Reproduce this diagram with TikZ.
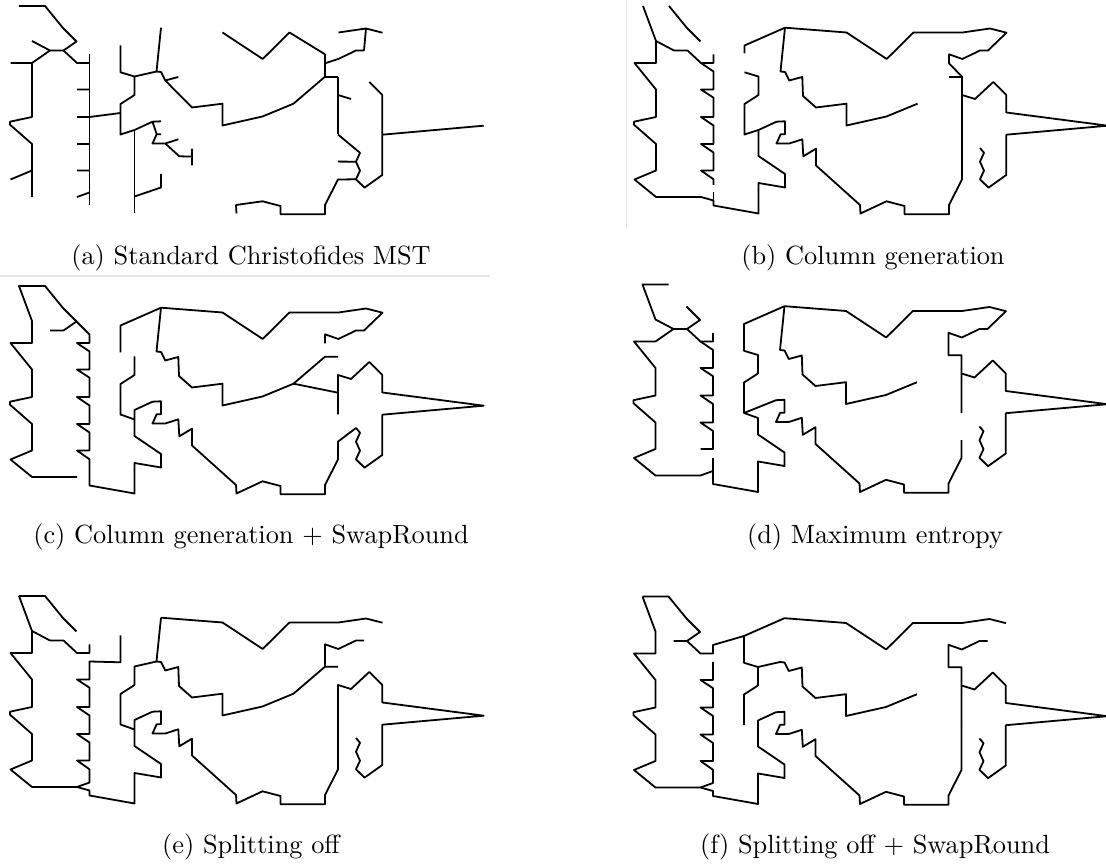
\documentclass[tikz,border=0pt]{standalone}
\usepackage{tikz}
\newcommand{\tspverts}{%
\coordinate (a1) at (19,6);\coordinate (a2) at (45,6);\coordinate (a3) at (63,28);
\coordinate (a4) at (76.5,41.5);\coordinate (a5) at (63.5,50.5);\coordinate (a6) at (50,50.5);
\coordinate (a7) at (32,41);\coordinate (a8) at (32,63);\coordinate (a9) at (10.5,63);
\coordinate (a10) at (77,63);\coordinate (a11) at (89.5,63);\coordinate (a12) at (89.5,54.5);
\coordinate (b89) at (32,89.5);\coordinate (b117) at (32,117);\coordinate (b144) at (32,144);
\coordinate (b170) at (32,170.5);\coordinate (b197) at (32,197);
\coordinate (c122) at (10,121.7);\coordinate (c124) at (10,124.7);\coordinate (c179) at (10.5,179.5);
\coordinate (d89) at (77,89.5);\coordinate (d117) at (77,117);\coordinate (d144) at (77,144);
\coordinate (d170) at (77,170.5);\coordinate (d197) at (77,197);
\coordinate (e71) at (89.5,71.5);\coordinate (e89) at (89.5,89.5);\coordinate (e97) at (89.5,97.7);
\coordinate (e117) at (89.5,117);\coordinate (e126) at (89.5,125.5);\coordinate (e144) at (89.5,144);
\coordinate (e152) at (89.5,152.5);\coordinate (e170) at (89.5,170.5);\coordinate (e179) at (89.5,179.3);
\coordinate (e185) at (89.5,185);\coordinate (e190) at (89.5,192.5);\coordinate (e200) at (89.5,200.5);
\coordinate (e205) at (89.5,205.5);
\coordinate (m1) at (120.5,45.5);\coordinate (m2) at (120.5,53.3);\coordinate (m3) at (120.5,72.3);
\coordinate (m4) at (134.5,76.5);\coordinate (m5) at (134.5,95);\coordinate (m6) at (120.5,104);
\coordinate (m7) at (120.5,113);\coordinate (m8) at (120.5,134.5);\coordinate (m9) at (134.5,130);
\coordinate (m9b) at (134.5,139.5);\coordinate (m10) at (134.5,156);\coordinate (m11) at (161,174);
\coordinate (m12) at (161,187.5);\coordinate (m13) at (134.5,183);\coordinate (m13b) at (134.5,196.5);
\coordinate (m14) at (134.5,213.5);\coordinate (m15) at (161,27.7);\coordinate (m16) at (156.5,71.5);
\coordinate (m17) at (161,72);\coordinate (m18) at (165.3,80.5);\coordinate (m19) at (178.3,77);
\coordinate (m20) at (179,96);\coordinate (m21) at (192,107.5);\coordinate (m22) at (222.5,103.7);
\coordinate (m23) at (222.5,125.5);\coordinate (m24) at (262.5,116.5);\coordinate (m25) at (293.5,103.7);
\coordinate (n1) at (152.5,121.7);\coordinate (n2) at (161,121.3);\coordinate (n3) at (156.7,134.2);
\coordinate (n4) at (161,134.2);\coordinate (n5) at (152.5,143.5);\coordinate (n6) at (165.3,143.5);
\coordinate (n7) at (178.3,139.3);\coordinate (n8) at (179.3,156.3);\coordinate (n9) at (191.7,156.6);
\coordinate (n10) at (192,148.7);\coordinate (n11) at (192,165.5);
\coordinate (p1) at (236,205);\coordinate (p2) at (236.5,213.5);
\coordinate (q1) at (262.5,201.3);\coordinate (q2) at (280.5,206);\coordinate (q3) at (280.5,214.3);
\coordinate (q4) at (325,214.3);\coordinate (q5) at (325,205);
\coordinate (r1) at (338,179.5);\coordinate (r2) at (338,161.6);
\coordinate (s1) at (356,148);\coordinate (s2) at (360,152.8);\coordinate (s3) at (356,161.7);
\coordinate (s4) at (360,170.7);\coordinate (s5) at (356,179.3);\coordinate (s6) at (364.5,187.7);
\coordinate (t1) at (382.3,175);\coordinate (t2) at (382.3,134.7);\coordinate (t3) at (382.3,112.5);
\coordinate (t4) at (382.3,95);\coordinate (t5) at (369.3,82);\coordinate (tip) at (483.7,125.7);
\coordinate (u1) at (351,99);\coordinate (u2) at (338,95);\coordinate (u3) at (338,134.5);
\coordinate (u4) at (338,112.7);
\coordinate (v1) at (325,54.3);\coordinate (v2) at (325,63.3);\coordinate (v3) at (325,76.7);
\coordinate (v4) at (338,76.7);
\coordinate (w1) at (338.3,59);\coordinate (w2) at (356,50.5);\coordinate (w3) at (364,50.5);
\coordinate (w0) at (366,28.5);\coordinate (w4) at (338.5,32.5);\coordinate (w5) at (382.5,32.7);
\coordinate (y1) at (222.5,32.5);\coordinate (y2) at (262.7,59);\coordinate (y3) at (289.5,32.5);
}
\begin{document}
\begin{tikzpicture}[x=0.38pt,y=-0.38pt,
  edge/.style={line width=0.68pt,line join=round},
  captext/.style={anchor=base,inner sep=0pt,font=\normalsize},
  frameline/.style={line width=0.4pt,draw=black!10}]
\useasboundingbox (0,0) rectangle (1106,867);
\fill[white] (0,0) rectangle (1106,867);
\draw[frameline] (626.7,0) -- (626.7,228);
\draw[frameline] (0,276) -- (490,276);
% (a)
\begin{scope}[edge]
\tspverts
\draw (a1)--(a2)--(a3)--(a4)--(a5)--(a6)--(a7);
\draw (a6)--(a8)--(a9);
\draw (a8)--(b117)--(c122)--(c124)--(b144)--(b197);
\draw (c179)--(b170);
\draw (a5)--(a10)--(a11);
\draw (a12)--(e205);
\draw (d89)--(e89) (d117)--(e117) (d144)--(e144) (d170)--(e170) (d197)--(e190);
\draw (e117)--(m7);
\draw (m1)--(m3)--(m4)--(m16)--(m15);
\draw (m16)--(m17)--(m18)--(m19);
\draw (m18)--(m21)--(m22)--(m23)--(m24)--(m25)--(v3);
\draw (m4)--(m5)--(m6)--(m8)--(m9);
\draw (m9)--(m14);
\draw (m9)--(n1)--(n2) (n1)--(n3)--(n4) (n3)--(n5)--(n6)--(n7) (n6)--(n8)--(n9) (n10)--(n11);
\draw (m13b)--(m12)--(m11);
\draw (p2)--(p1)--(q1)--(q2)--(q3)--(q4)--(q5)--(r1)--(s5)--(s4)--(s3)--(s2)--(u3);
\draw (r2)--(s3);
\draw (s5)--(s6)--(t1)--(t4)--(t5);
\draw (t2)--(tip);
\draw (v4)--(u3);
\draw (u2)--(u1);
\draw (v3)--(v4);
\draw (v1)--(v3);
\draw (v2)--(w1)--(w2)--(w3);
\draw (w4)--(w0)--(w5) (w0)--(w3);
\draw (y1)--(y2)--(y3)--(v1);
\end{scope}
% (b)
\begin{scope}[edge,shift={(624,0)}]
\tspverts
\draw (a1)--(a7)--(a8)--(a9)--(b89)--(b117)--(c122)--(c124)--(b144)--(b170)--(c179)--(b197)--(d197)--(e200)--(e205)--(m14)--(m13)--(m12)--(m11)--(m10)--(m9)--(n1)--(n2)--(n4)--(n3)--(n5)--(n6)--(n7)--(n8)--(n10)--(n11)--(p1)--(p2)--(q1)--(q2)--(q3)--(q4)--(q5)--(r1)--(v4)--(v2)--(v1)--(w1)--(w2)--(w3)--(w5)--(w0)--(w4)--(y3)--(y2)--(y1)--(m15)--(m1)--(m2);
\draw (a2)--(a3)--(a4);
\draw (a7)--(a6)--(a5)--(a10)--(a11)--(a12);
\draw (a10)--(e71)--(e89)--(d89)--(e97)--(e117)--(d117)--(e126)--(e144)--(d144)--(e152)--(e170)--(d170)--(e179)--(e185);
\draw (e190)--(e200);
\draw (m3)--(m4)--(m5)--(m6)--(m8)--(m9);
\draw (m15)--(m16)--(m17)--(m18)--(m19)--(m20)--(m21)--(m22)--(m23)--(m24)--(m25);
\draw (v3)--(v4);
\draw (u2)--(u1)--(t5)--(t4)--(t3)--(tip)--(t2)--(t1)--(s6)--(s5)--(s4)--(s3)--(s2)--(s1);
\end{scope}
% (c)
\begin{scope}[edge,shift={(0,280)}]
\tspverts
\draw (d197)--(b197)--(c179)--(b170)--(b144)--(c124)--(c122)--(b117)--(b89)--(a9)--(a8)--(a7)--(a1)--(a2)--(a3)--(a4)--(a12)--(a11)--(a10)--(e71)--(e89)--(d89)--(e97)--(e117)--(d117)--(e126)--(e144)--(d144)--(e152)--(e170)--(d170)--(e179)--(e205)--(m14)--(m13)--(m12)--(m11)--(m10)--(m9)--(n1)--(n2)--(n4)--(n3)--(n5)--(n6)--(n7)--(n8)--(n10)--(n11)--(p1)--(p2)--(q1)--(q2)--(q3)--(q4)--(q5)--(r1)--(r2)--(s1)--(s2)--(s3)--(s4)--(s5)--(s6)--(t1)--(t2)--(tip)--(t3)--(t4)--(t5)--(u1)--(u2)--(u3);
\draw (a6)--(a5)--(a4);
\draw (m3)--(m1)--(m15)--(y1)--(y2)--(y3)--(w4)--(w0)--(w5)--(w3)--(w2)--(w1)--(v1)--(v2);
\draw (m15)--(m16)--(m17)--(m18)--(m19)--(m20)--(m21)--(m22)--(m23)--(m24)--(m25)--(v3)--(v4);
\draw (m25)--(u4);
\draw (m4)--(m5)--(m6)--(m8)--(m9b);
\end{scope}
% (d)
\begin{scope}[edge,shift={(623.5,278.5)}]
\tspverts
\draw (a2)--(a1)--(a7)--(a6)--(a5)--(a4)--(a3);
\draw (a6)--(a8)--(a9)--(b89)--(b117)--(c122)--(c124)--(b144)--(b170)--(c179)--(b197)--(d197)--(e190)--(e205)--(m14)--(m13)--(m12)--(m11)--(m10)--(m9b)--(m8)--(m6)--(m5)--(m4)--(m3)--(m1)--(m15)--(y1)--(y2)--(y3)--(w4)--(w0)--(w5)--(w3)--(w2)--(w1)--(v1)--(v3)--(v4)--(u3);
\draw (a5)--(a10)--(a11)--(a12);
\draw (a10)--(e71)--(e89)--(d89)--(e97)--(e117)--(d117)--(e126)--(e144)--(d144)--(e152)--(e170)--(d170);
\draw (e179)--(e190);
\draw (m8)--(n1)--(n2)--(n4)--(n3)--(n5)--(n6)--(n7)--(n8)--(n10)--(n11)--(p1)--(p2)--(q1)--(q2)--(q3)--(q4)--(q5)--(r1)--(r2);
\draw (m15)--(m16)--(m17)--(m18)--(m19)--(m20)--(m21)--(m22)--(m23)--(m24)--(m25);
\draw (u2)--(u1)--(t5)--(t4)--(t3)--(tip)--(t2)--(t1)--(s6)--(s5)--(s4)--(s3)--(s2)--(s1);
\end{scope}
% (e)
\begin{scope}[edge,shift={(0,590)}]
\tspverts
\draw (a1)--(a2)--(a3)--(a4);
\draw (a1)--(a7)--(a8)--(a9)--(b89)--(b117)--(c122)--(c124)--(b144)--(b170)--(c179)--(b197)--(d197)--(e200)--(e205)--(m14)--(m13)--(m12)--(m11)--(m10)--(m9)--(n1)--(n2)--(n4)--(n3)--(n5)--(n6)--(n7)--(n8)--(n10)--(n11)--(p1)--(p2)--(q1)--(q2)--(q3)--(q4)--(q5)--(r1)--(u2)--(u1)--(t5)--(t4)--(t3)--(tip)--(t2)--(t1)--(s6)--(s5)--(s4)--(s3)--(s2)--(s1);
\draw (a7)--(a6)--(a5)--(a10)--(a11)--(a12);
\draw (m1)--(m3)--(e71)--(e89)--(d89)--(e97)--(e117)--(d117)--(e126)--(e144)--(d144)--(e152)--(e170)--(d170)--(e179)--(e190)--(d197);
\draw (m15)--(y1)--(y2)--(y3)--(w4)--(w0)--(w5);
\draw (w3)--(w2)--(w1)--(v1)--(v3)--(v4);
\draw (m15)--(m16)--(m17)--(m18)--(m19)--(m20)--(m21)--(m22)--(m23)--(m24)--(m25)--(v3);
\draw (m16)--(m4)--(m5)--(m6)--(m8)--(m9b);
\end{scope}
% (f)
\begin{scope}[edge,shift={(623.5,590.5)}]
\tspverts
\draw (a1)--(a2)--(a3)--(a4)--(a5)--(a6);
\draw (a1)--(a7)--(a8)--(a9)--(b89)--(b117)--(c122)--(c124)--(b144)--(b170)--(c179)--(b197)--(d197)--(e200)--(e205)--(m14)--(m13)--(m12)--(m11)--(m10)--(m9)--(n1)--(n2)--(n4)--(n3)--(n5)--(n6)--(n7)--(n8)--(n10)--(n11)--(p1)--(p2)--(q1)--(q2)--(q3)--(q4)--(q5)--(r1)--(u3);
\draw (a5)--(a10)--(a11)--(a12)--(m1)--(m15)--(y1)--(y2)--(y3)--(w4)--(w0)--(w5);
\draw (m1)--(m3)--(m4)--(m16)--(m17)--(m18)--(m19)--(m20)--(m21)--(m22)--(m23)--(m24)--(m25);
\draw (e71)--(e89)--(d89)--(e97)--(e117)--(d117)--(e126)--(e144)--(d144)--(e152)--(e170)--(d170)--(e179)--(e190)--(d197);
\draw (w3)--(w2)--(w1)--(v1)--(v3)--(v4)--(u3);
\draw (u2)--(u1)--(t5)--(t4)--(t3)--(tip)--(t2)--(t1)--(s6)--(s5)--(s4)--(s3)--(s2)--(s1);
\draw (m4)--(m5)--(m6)--(m8);
\end{scope}
% captions
\node[captext] (capa) at (251,265) {(a) Standard Christofides MST};
\node[captext] (capb) at (873,265) {(b) Column generation};
\node[captext] (capc) at (251,543.5) {(c) Column generation + SwapRound};
\node[captext] (capd) at (875,543.5) {(d) Maximum entropy};
\node[captext] (cape) at (251,853.5) {(e) Splitting off};
\node[captext] (capf) at (875,853.5) {(f) Splitting off + SwapRound};
\end{tikzpicture}
\end{document}
